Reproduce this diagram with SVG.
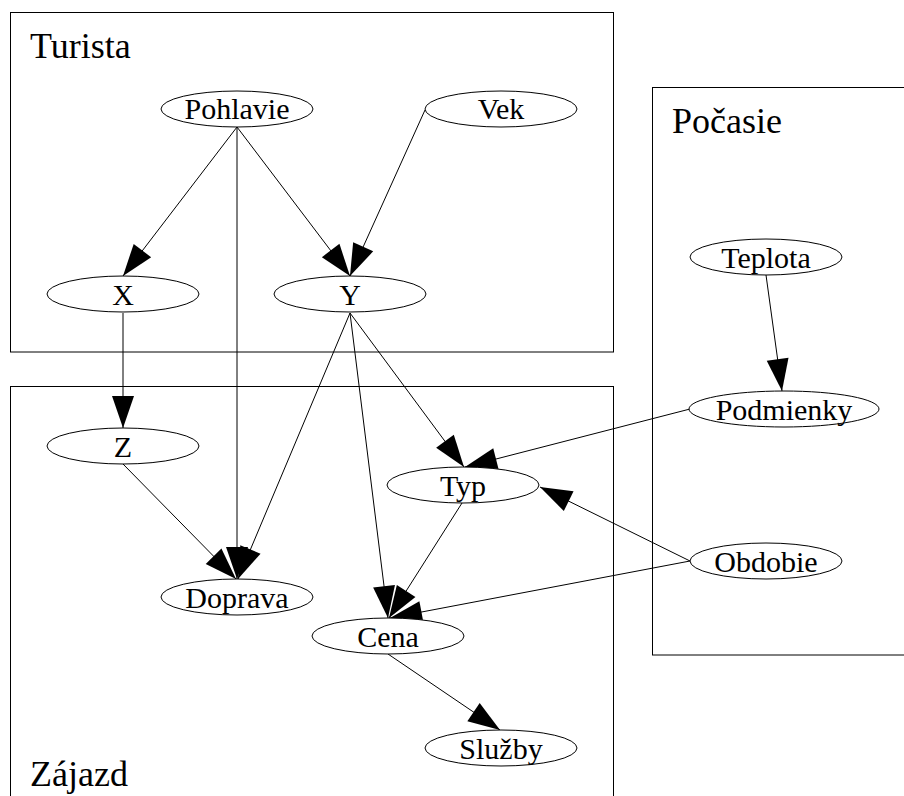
<svg xmlns="http://www.w3.org/2000/svg" width="904" height="796" viewBox="0 0 904 796">
<style>
.box{fill:none;stroke:#000;stroke-width:1}
.node ellipse{fill:#fff;stroke:#000;stroke-width:1}
.node text{font-family:"Liberation Serif","Times New Roman",serif;font-size:30px;text-anchor:middle;fill:#000}
.title{font-family:"Liberation Serif","Times New Roman",serif;font-size:36px;fill:#000}
.edges path{fill:none;stroke:#000;stroke-width:1;marker-end:url(#ah)}
</style>
<defs>
<marker id="ah" markerUnits="userSpaceOnUse" markerWidth="34" markerHeight="24" refX="32" refY="11" orient="auto" overflow="visible">
<path d="M0,0 L32,11 L0,22 Z" fill="#000"/>
</marker>
</defs>
<rect width="904" height="796" fill="#fff"/>
<g id="cluster-turista">
<rect class="box" x="10.5" y="12.5" width="603" height="339.5"/>
<text class="title" x="30" y="58">Turista</text>
</g>
<g id="cluster-zajazd">
<rect class="box" x="10.5" y="386.5" width="603" height="420"/>
<text class="title" x="30" y="786">Zájazd</text>
</g>
<g id="cluster-pocasie">
<rect class="box" x="652.5" y="87.5" width="260" height="567.5"/>
<text class="title" x="672" y="133">Počasie</text>
</g>
<g class="edges" id="edges">
<path d="M237,127 L123,276"/>
<path d="M237,127 L350,276"/>
<path d="M237,127 L237,579"/>
<path d="M425,110 L350,276"/>
<path d="M123,313 L123,428"/>
<path d="M350,313 L238,579"/>
<path d="M350,313 L388,618"/>
<path d="M350,313 L464,467"/>
<path d="M123,464 L236,579"/>
<path d="M462,503 L389,618"/>
<path d="M690,409 L465,467"/>
<path d="M690,561 L540,487"/>
<path d="M690,561 L390,618"/>
<path d="M388,654 L500,730"/>
<path d="M766,275 L782,391"/>
</g>
<g class="node" id="node-pohlavie"><ellipse cx="237" cy="109" rx="76" ry="18"/><text x="237" y="119">Pohlavie</text></g>
<g class="node" id="node-vek"><ellipse cx="501" cy="109" rx="76" ry="18"/><text x="501" y="119">Vek</text></g>
<g class="node" id="node-x"><ellipse cx="123" cy="294" rx="76" ry="18"/><text x="123" y="305">X</text></g>
<g class="node" id="node-y"><ellipse cx="350" cy="294" rx="76" ry="18"/><text x="350" y="305">Y</text></g>
<g class="node" id="node-z"><ellipse cx="123" cy="446" rx="76" ry="18"/><text x="123" y="457">Z</text></g>
<g class="node" id="node-typ"><ellipse cx="463" cy="485" rx="76" ry="18"/><text x="463" y="496">Typ</text></g>
<g class="node" id="node-doprava"><ellipse cx="237" cy="597" rx="76" ry="18"/><text x="237" y="608">Doprava</text></g>
<g class="node" id="node-cena"><ellipse cx="388" cy="636" rx="76" ry="18"/><text x="388" y="647">Cena</text></g>
<g class="node" id="node-sluzby"><ellipse cx="501" cy="748" rx="76" ry="18"/><text x="501" y="759">Služby</text></g>
<g class="node" id="node-teplota"><ellipse cx="766" cy="257" rx="76" ry="18"/><text x="766" y="268">Teplota</text></g>
<g class="node" id="node-podmienky"><ellipse cx="784" cy="409" rx="95" ry="18"/><text x="784" y="420">Podmienky</text></g>
<g class="node" id="node-obdobie"><ellipse cx="766" cy="561" rx="76" ry="18"/><text x="766" y="572">Obdobie</text></g>
</svg>
